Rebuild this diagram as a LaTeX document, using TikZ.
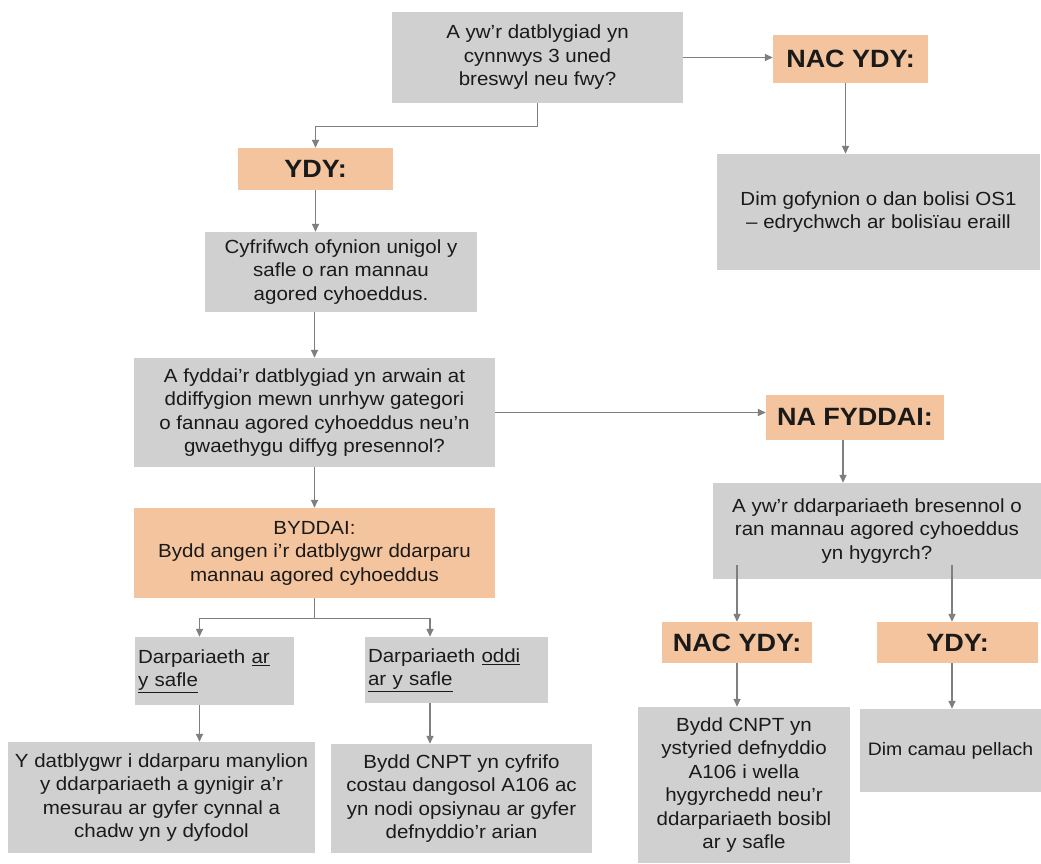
\documentclass[tikz,border=0pt]{standalone}
\usepackage{fontspec}
\setmainfont{Liberation Sans}[FakeStretch=1.08]
\usetikzlibrary{arrows.meta,calc}
\definecolor{boxgrey}{HTML}{D0D0D0}
\definecolor{boxorange}{HTML}{F3C49D}
\definecolor{linegrey}{HTML}{7F7F7F}
\definecolor{txt}{HTML}{1A1A1A}
\begin{document}
\begin{tikzpicture}[x=1pt,y=-1pt,
  gbox/.style={fill=boxgrey,draw=none,inner sep=0pt,align=center,text=txt,
    font=\fontsize{19}{23.5}\selectfont},
  obox/.style={fill=boxorange,draw=none,inner sep=0pt,align=center,text=txt,
    font=\fontsize{25}{28}\selectfont\bfseries},
  lbox/.style={fill=boxgrey,draw=none,inner ysep=0pt,inner xsep=3pt,align=left,text=txt,
    font=\fontsize{19}{23.5}\selectfont},
  conn/.style={draw=linegrey,line width=1.4pt,-{Triangle[length=8pt,width=7pt]}},
  plain/.style={draw=linegrey,line width=1.4pt}
]
\useasboundingbox (0,0) rectangle (1041,863);
\fill[white] (0,0) rectangle (1041,863);

% nodes
\node[gbox,minimum width=291pt,minimum height=91pt] (q1) at (537.5,57.5)
  {A yw’r datblygiad yn\\cynnwys 3 uned\\breswyl neu fwy?};
\node[obox,minimum width=155pt,minimum height=48pt] (nacydy1) at (850.5,59) {NAC YDY:};
\node[gbox,minimum width=323pt,minimum height=116pt] (dim1) at (878.5,212)
  {Dim gofynion o dan bolisi OS1\\– edrychwch ar bolisïau eraill};
\node[obox,minimum width=155pt,minimum height=42pt] (ydy1) at (315.5,169) {YDY:};
\node[gbox,minimum width=272pt,minimum height=80pt] (c1) at (341,272)
  {Cyfrifwch ofynion unigol y\\safle o ran mannau\\agored cyhoeddus.};
\node[gbox,minimum width=361pt,minimum height=109pt] (q2) at (314.5,412.5)
  {A fyddai’r datblygiad yn arwain at\\ddiffygion mewn unrhyw gategori\\o fannau agored cyhoeddus neu’n\\gwaethygu diffyg presennol?};
\node[obox,minimum width=178pt,minimum height=45pt] (nafyddai) at (855,417) {NA FYDDAI:};
\node[gbox,minimum width=328pt,minimum height=96pt] (q3) at (877,531)
  {A yw’r ddarpariaeth bresennol o\\ran mannau agored cyhoeddus\\yn hygyrch?};
\node[obox,minimum width=150pt,minimum height=41pt] (nacydy2) at (737,642.5) {NAC YDY:};
\node[obox,minimum width=161pt,minimum height=41pt] (ydy2) at (957.5,642.5) {YDY:};
\node[gbox,minimum width=212pt,minimum height=156pt] (bydd2) at (744,785)
  {Bydd CNPT yn\\ystyried defnyddio\\A106 i wella\\hygyrchedd neu’r\\ddarpariaeth bosibl\\ar y safle};
\node[gbox,minimum width=181pt,minimum height=83pt,font=\fontsize{18}{23.5}\selectfont] (dim2) at (950.5,750.5)
  {Dim camau pellach};
\node[fill=boxorange,draw=none,inner sep=0pt,align=center,text=txt,
  font=\fontsize{19}{23.5}\selectfont,minimum width=361pt,minimum height=90pt] (byddai) at (314.5,553)
  {BYDDAI:\\Bydd angen i’r datblygwr ddarparu\\mannau agored cyhoeddus};
\node[lbox,text width=153pt,minimum height=68pt] (darp1) at (214.5,671)
  {Darpariaeth \underline{ar}\\\underline{y safle}};
\node[lbox,text width=177pt,minimum height=66pt] (darp2) at (456.5,670)
  {Darpariaeth \underline{oddi}\\\underline{ar y safle}};
\node[gbox,minimum width=307pt,minimum height=111pt] (ydat) at (161.5,797.5)
  {Y datblygwr i ddarparu manylion\\y ddarpariaeth a gynigir a’r\\mesurau ar gyfer cynnal a\\chadw yn y dyfodol};
\node[gbox,minimum width=261pt,minimum height=109pt] (bydd1) at (461.5,798.5)
  {Bydd CNPT yn cyfrifo\\costau dangosol A106 ac\\yn nodi opsiynau ar gyfer\\defnyddio’r arian};

% connectors
\draw[conn] (q1.south) -- ++(0,23) -| (ydy1.north);
\draw[conn] (q1.east) -- (q1.east -| nacydy1.west);
\draw[conn] ([xshift=-5pt]nacydy1.south) -- ([xshift=-5pt]nacydy1.south |- dim1.north);
\draw[conn] (ydy1.south) -- (ydy1.south |- c1.north);
\draw[conn] (q2.north |- c1.south) -- (q2.north);
\draw[conn] (q2.south) -- (byddai.north);
\draw[conn] (q2.east) -- (q2.east -| nafyddai.west);
\draw[conn] ([xshift=-12pt]nafyddai.south) -- ([xshift=-12pt]nafyddai.south |- q3.north);
\draw[conn] ([yshift=14pt]nacydy2.north |- q3.south) -- (nacydy2.north);
\draw[conn] ([xshift=-5.5pt,yshift=14pt]ydy2.north |- q3.south) -- ([xshift=-5.5pt]ydy2.north);
\draw[conn] (nacydy2.south) -- (nacydy2.south |- bydd2.north);
\draw[conn] ([xshift=-5.5pt]ydy2.south) -- ([xshift=-5.5pt]ydy2.south |- dim2.north);
\draw[plain] (byddai.south) -- ++(0,20) coordinate (split);
\draw[conn] (split) -| ([xshift=-15pt]darp1.north);
\draw[conn] (split) -| ([xshift=-26.5pt]darp2.north);
\draw[conn] ([xshift=-15pt]darp1.south) -- ([xshift=-15pt]darp1.south |- ydat.north);
\draw[conn] ([xshift=-26.5pt]darp2.south) -- ([xshift=-26.5pt]darp2.south |- bydd1.north);
\end{tikzpicture}
\end{document}
